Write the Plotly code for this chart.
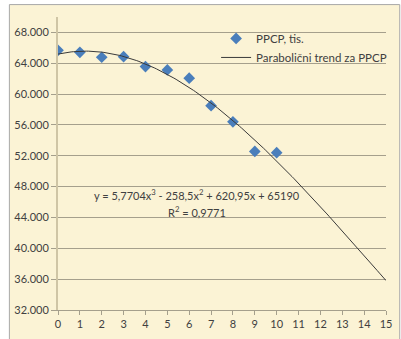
import plotly.graph_objects as go
import numpy as np

# Data
years = [0, 1, 2, 3, 4, 5, 6, 7, 8, 9, 10]
ppcp = [65680, 65420, 64780, 64860, 63570, 63140, 62070, 58500, 56400, 52570, 52400]

# Trend line coefficients shown on the chart: y = a x^3 + b x^2 + c x + d
trend_coef = [5.7704, -258.5, 620.95, 65190]
trend_x = list(np.linspace(0, 15, 151))
trend_y = [np.polyval(trend_coef, v) for v in trend_x]

x_ticks = list(range(0, 16))
y_ticks = list(range(32000, 68001, 4000))

FONT = "Lato"
TXT = "#404040"
GRID = "#A59F8C"
CREAM = "#FBF3D5"

W, H = 401, 339
L, R, T, B = 58, 9, 17, 27
pw, ph = W - L - R, H - T - B

def px_x(p):
    return (p - L) / pw

def px_y(p):
    return (H - B - p) / ph

fig = go.Figure()
fig.add_trace(go.Scatter(
    x=years, y=ppcp, mode="markers", name="PPCP, tis.",
    marker=dict(symbol="diamond", size=9, color="#4A7EBB"),
))
fig.add_trace(go.Scatter(
    x=trend_x, y=trend_y, mode="lines", name="Parabolični trend za PPCP",
    line=dict(color="#3A3A3A", width=1),
))

fig.add_shape(type="rect", xref="paper", yref="paper",
              x0=px_x(8.5), x1=px_x(W + 5), y0=px_y(H + 5), y1=px_y(4.5),
              fillcolor=CREAM, line=dict(color="#A8A8A8", width=1), layer="below")

fig.add_annotation(x=6.35, y=47000, xref="x", yref="y", showarrow=False,
                   text="y = 5,7704x<sup>3</sup> - 258,5x<sup>2</sup> + 620,95x + 65190",
                   font=dict(family=FONT, size=11, color=TXT))
fig.add_annotation(x=6.35, y=44800, xref="x", yref="y", showarrow=False,
                   text="R<sup>2</sup> = 0,9771",
                   font=dict(family=FONT, size=11, color=TXT))

fig.update_layout(
    width=W, height=H,
    margin=dict(l=L, r=R, t=T, b=B),
    paper_bgcolor="white", plot_bgcolor="rgba(0,0,0,0)",
    separators=",.",
    font=dict(family=FONT, size=11, color=TXT),
    showlegend=True,
    legend=dict(x=px_x(219), y=px_y(24), xanchor="left", yanchor="top",
                bgcolor="rgba(0,0,0,0)", font=dict(family=FONT, size=11.5, color=TXT),
                tracegroupgap=0, itemwidth=30),
    xaxis=dict(range=[0, 15], tickmode="array", tickvals=x_ticks,
               ticktext=[str(v) for v in x_ticks],
               showgrid=False, zeroline=False, showline=True, linecolor=GRID, linewidth=1,
               ticks="outside", ticklen=4, tickcolor=GRID, tickfont=dict(size=11)),
    yaxis=dict(range=[32000, 70000], tickmode="array", tickvals=y_ticks,
               ticktext=[f"{v // 1000}.000" for v in y_ticks],
               showgrid=True, gridcolor=GRID, gridwidth=1, zeroline=False,
               showline=True, linecolor="#CFC5A5", linewidth=2,
               ticks="outside", ticklen=5, tickcolor=GRID, tickfont=dict(size=11)),
)

fig.write_html("out.html")
